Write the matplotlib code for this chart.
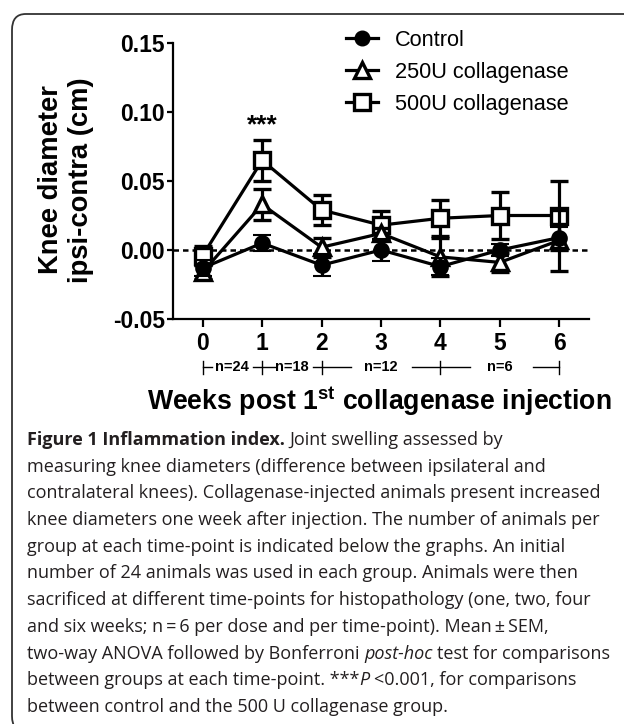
import matplotlib
matplotlib.use("Agg")
import matplotlib.pyplot as plt
from matplotlib.lines import Line2D
from matplotlib.patches import FancyBboxPatch
import matplotlib.transforms as mtransforms

# ---------------------------------------------------------------- data
weeks = [0, 1, 2, 3, 4, 5, 6]
control_mean = [-0.013, 0.005, -0.011, 0.000, -0.012, 0.000, 0.009]
control_sem = [0.006, 0.006, 0.008, 0.008, 0.006, 0.004, 0.008]
c250_mean = [-0.016, 0.033, 0.002, 0.012, -0.005, -0.009, 0.007]
c250_sem = [0.005, 0.011, 0.007, 0.004, 0.014, 0.007, 0.022]
c500_mean = [-0.004, 0.065, 0.029, 0.018, 0.023, 0.025, 0.025]
c500_sem = [0.007, 0.015, 0.011, 0.010, 0.013, 0.017, 0.025]

series_labels = ["Control", "250U collagenase", "500U collagenase"]

# animals per group, shown under the x axis
n_labels = ["n=24", "n=18", "n=12", "n=6"]
n_centers = [0.5, 1.5, 3.0, 5.0]
n_ticks = [0, 1, 2, 4, 6]
n_segments = [(0, 0.15), (0.85, 1.24), (1.86, 2.5), (3.53, 4.5), (5.55, 6.0)]

yticks = [-0.05, 0.00, 0.05, 0.10, 0.15]

caption = [
    [("Figure 1 Inflammation index.", "bold"), (" Joint swelling assessed by", "normal")],
    [("measuring knee diameters (difference between ipsilateral and", "normal")],
    [("contralateral knees). Collagenase-injected animals present increased", "normal")],
    [("knee diameters one week after injection. The number of animals per", "normal")],
    [("group at each time-point is indicated below the graphs. An initial", "normal")],
    [("number of 24 animals was used in each group. Animals were then", "normal")],
    [("sacrificed at different time-points for histopathology (one, two, four", "normal")],
    [("and six weeks; n\u2009=\u20096 per dose and per time-point). Mean\u2009\u00b1\u2009SEM,", "normal")],
    [("two-way ANOVA followed by Bonferroni ", "normal"), ("post-hoc", "italic"),
     (" test for comparisons", "normal")],
    [("between groups at each time-point. ***", "normal"), ("P", "italic"),
     (" <0.001, for comparisons", "normal")],
    [("between control and the 500 U collagenase group.", "normal")],
]

# ---------------------------------------------------------------- style
W, H = 624, 724
ARIAL = "Liberation Sans"
CAP_FONT = ["Open Sans", "DejaVu Sans"]
CAP_FS = 13.0
plt.rcParams["font.family"] = ARIAL
plt.rcParams["mathtext.fontset"] = "custom"
plt.rcParams["mathtext.bf"] = "Liberation Sans:bold"
plt.rcParams["mathtext.rm"] = "Liberation Sans"

fig = plt.figure(figsize=(W / 100, H / 100), dpi=100)
ax = fig.add_axes([173 / W, 1 - 319 / H, (589 - 173) / W, (319 - 43) / H])

# rounded frame around the figure (right / bottom edges run off the page)
frame = FancyBboxPatch((12 / W, -8 / H), 660 / W, (710 + 8) / H,
                       boxstyle="round,pad=0,rounding_size=0.022",
                       transform=fig.transFigure, fill=False,
                       ec="#333333", lw=1.3, zorder=0)
fig.patches.append(frame)

# ---------------------------------------------------------------- series
common = dict(color="black", lw=2.3, elinewidth=2.3, capsize=6.5, capthick=2.4)
ax.errorbar(weeks, c500_mean, yerr=c500_sem, marker="s", ms=11, mfc="white",
            mec="black", mew=2.4, zorder=3, **common)
ax.errorbar(weeks, c250_mean, yerr=c250_sem, marker="^", ms=11, mfc="white",
            mec="black", mew=2.4, zorder=4, **common)
ax.errorbar(weeks, control_mean, yerr=control_sem, marker="o", ms=10.5, mfc="black",
            mec="black", mew=1.5, zorder=5, **common)

ax.axhline(0, color="black", ls=(0, (2.2, 1.6)), lw=1.8, zorder=2)
ax.text(1, 0.0815, "***", ha="center", va="bottom", fontsize=19, fontweight="bold")

ax.set_xlim(-0.5, 6.5)
ax.set_ylim(-0.05, 0.15)
ax.set_xticks(weeks)
ax.set_yticks(yticks)
ax.set_yticklabels([f"{v:.2f}" for v in yticks])
for s in ["top", "right"]:
    ax.spines[s].set_visible(False)
for s in ["left", "bottom"]:
    ax.spines[s].set_linewidth(1.6)
ax.tick_params(axis="x", length=5.5, width=1.6, pad=4, labelsize=16.5)
ax.tick_params(axis="y", length=4.5, width=1.6, pad=1.5, labelsize=16.5)
for lab in ax.get_xticklabels() + ax.get_yticklabels():
    lab.set_fontweight("bold")

# ---------------------------------------------------------------- legend
handles = [
    Line2D([], [], color="black", lw=2.3, marker="o", ms=10.5, mfc="black", mec="black"),
    Line2D([], [], color="black", lw=2.3, marker="^", ms=11, mfc="white", mec="black", mew=2.4),
    Line2D([], [], color="black", lw=2.3, marker="s", ms=11, mfc="white", mec="black", mew=2.4),
]
fig.legend(handles, series_labels, loc="upper left", bbox_to_anchor=(346 / W, 1 - 30 / H),
           frameon=False, fontsize=15.7, handlelength=1.45, handletextpad=0.78,
           labelspacing=0.5, borderpad=0, borderaxespad=0)

# ---------------------------------------------------------------- n row under the axis
btrans = mtransforms.blended_transform_factory(ax.transData, ax.transAxes)
ny = -48 / 276
th = 6.5 / 276
for a, b in n_segments:
    ax.plot([a, b], [ny, ny], color="black", lw=1.0, transform=btrans, clip_on=False)
for t in n_ticks:
    ax.plot([t, t], [ny - th, ny + th], color="black", lw=1.0, transform=btrans, clip_on=False)
for lab, c in zip(n_labels, n_centers):
    ax.text(c, ny, lab, transform=btrans, ha="center", va="center",
            fontsize=10.5, fontweight="bold")

# ---------------------------------------------------------------- axis titles
fig.text(66 / W, 1 - 180 / H, "Knee diameter\nipsi-contra (cm)", rotation=90,
         ha="center", va="center", fontsize=19.7, fontweight="bold", linespacing=1.2,
         multialignment="center")
fig.text(379 / W, 1 - 401 / H, r"Weeks post 1$^{\mathbf{st}}$ collagenase injection",
         ha="center", va="center", fontsize=19.2, fontweight="bold")

# ---------------------------------------------------------------- caption
renderer = fig.canvas.get_renderer()


def text_width(s, weight, style):
    t = fig.text(0, 0, s, family=CAP_FONT, fontsize=CAP_FS, weight=weight, style=style)
    w = t.get_window_extent(renderer).width
    t.remove()
    return w


space_w = text_width("x x", "normal", "normal") - text_width("xx", "normal", "normal")

for i, runs in enumerate(caption):
    x = 27
    y = 445 + 26.7 * i
    for s, kind in runs:
        weight = "bold" if kind == "bold" else "normal"
        style = "italic" if kind == "italic" else "normal"
        lead = len(s) - len(s.lstrip(" "))
        trail = len(s) - len(s.rstrip(" "))
        x += lead * space_w
        core = s.strip(" ")
        t = fig.text(x / W, 1 - y / H, core, family=CAP_FONT, fontsize=CAP_FS,
                     weight=weight, style=style, va="baseline", ha="left", color="#231f20")
        x += t.get_window_extent(renderer).width + trail * space_w

fig.savefig("out.png", dpi=100)
